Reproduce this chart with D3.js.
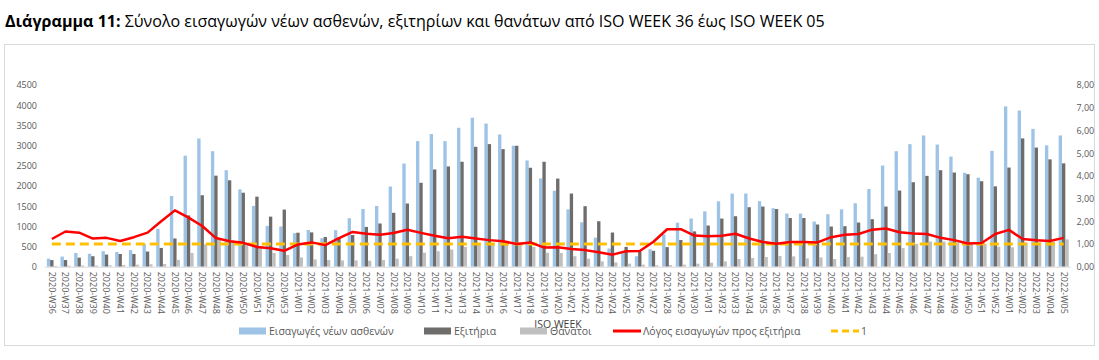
<!DOCTYPE html>
<html>
<head>
<meta charset="utf-8">
<script src="https://cdn.jsdelivr.net/npm/d3@7"></script>
<style>
  body { margin: 0; background: #fff; }
  text { font-family: "Open Sans", sans-serif; }
</style>
</head>
<body>
<div id="chart"></div>
<script>
// week labels on the x axis
var weeks = [
  "2020-W36","2020-W37","2020-W38","2020-W39","2020-W40","2020-W41","2020-W42","2020-W43","2020-W44",
  "2020-W45","2020-W46","2020-W47","2020-W48","2020-W49","2020-W50","2020-W51","2020-W52","2020-W53",
  "2021-W01","2021-W02","2021-W03","2021-W04","2021-W05","2021-W06","2021-W07","2021-W08","2021-W09",
  "2021-W10","2021-W11","2021-W12","2021-W13","2021-W14","2021-W15","2021-W16","2021-W17","2021-W18",
  "2021-W19","2021-W20","2021-W21","2021-W22","2021-W23","2021-W24","2021-W25","2021-W26","2021-W27",
  "2021-W28","2021-W29","2021-W30","2021-W31","2021-W32","2021-W33","2021-W34","2021-W35","2021-W36",
  "2021-W37","2021-W38","2021-W39","2021-W40","2021-W41","2021-W42","2021-W43","2021-W44","2021-W45",
  "2021-W46","2021-W47","2021-W48","2021-W49","2021-W50","2021-W51","2021-W52",
  "2022-W01","2022-W02","2022-W03","2022-W04","2022-W05"
];

// Εισαγωγές νέων ασθενών
var admissions = [
  200, 250, 340, 320, 385, 365, 410, 560, 940, 1750, 2750, 3175, 2860, 2390, 1915, 1505, 1010, 995,
  830, 910, 705, 905, 1200, 1430, 1505, 1985, 2555, 3110, 3285, 3110, 3440, 3690, 3545, 3275, 2995, 2632,
  2186, 1881, 1420, 1100, 720, 450, 332, 258, 432, 800, 1090, 1195, 1370, 1620, 1810, 1812, 1622, 1448,
  1316, 1316, 1118, 1300, 1420, 1572, 1923, 2505, 2860, 3035, 3250, 3025, 2728, 2327, 2204, 2870,
  3970, 3867, 3413, 3005, 3250
];

// Εξιτήρια
var discharges = [
  165, 165, 225, 260, 300, 315, 315, 375, 465, 700, 1270, 1770, 2255, 2140, 1832, 1735, 1240, 1415,
  842, 850, 734, 720, 785, 985, 1070, 1335, 1565, 2079, 2409, 2483, 2599, 2970, 3036, 2912, 2995, 2450,
  2599, 2182, 1812, 1498, 1126, 846, 490, 371, 392, 485, 660, 875, 1020, 1192, 1250, 1473, 1490, 1428,
  1205, 1205, 1045, 995, 1003, 1094, 1177, 1490, 1886, 2092, 2250, 2390, 2332, 2290, 2117, 1990,
  2455, 3178, 2950, 2658, 2560
];

// Θάνατοι
var deaths = [
  20, 25, 30, 30, 35, 40, 50, 60, 65, 170, 340, 555, 680, 650, 590, 500, 340, 290,
  230, 180, 165, 155, 155, 150, 165, 200, 260, 347, 385, 425, 490, 550, 575, 560, 540, 490,
  345, 340, 260, 198, 132, 107, 74, 50, 33, 41, 50, 74, 99, 132, 190, 215, 239, 264,
  256, 206, 231, 190, 239, 248, 310, 340, 460, 565, 625, 620, 600, 590, 560, 495,
  480, 594, 600, 619, 677
];

// Λόγος εισαγωγών προς εξιτήρια (right axis)
var ratio = [
  1.22, 1.55, 1.50, 1.24, 1.27, 1.13, 1.30, 1.50, 2.00, 2.48, 2.16, 1.79, 1.26, 1.12, 1.05, 0.87, 0.81, 0.70,
  0.98, 1.07, 0.95, 1.26, 1.53, 1.45, 1.41, 1.48, 1.63, 1.49, 1.36, 1.25, 1.32, 1.24, 1.17, 1.12, 1.00, 1.07,
  0.84, 0.86, 0.78, 0.73, 0.64, 0.53, 0.68, 0.69, 1.10, 1.65, 1.65, 1.37, 1.34, 1.36, 1.45, 1.24, 1.09, 1.01,
  1.09, 1.09, 1.07, 1.30, 1.41, 1.44, 1.63, 1.68, 1.52, 1.46, 1.44, 1.27, 1.17, 1.02, 1.04, 1.44,
  1.62, 1.22, 1.16, 1.13, 1.27
];

var refLevel = 1;

var leftTicks = [0, 500, 1000, 1500, 2000, 2500, 3000, 3500, 4000, 4500];
var rightTicks = [0, 1, 2, 3, 4, 5, 6, 7, 8];

var width = 1099, height = 360;
var plot = {left: 45, right: 1070.5, top: 85, bottom: 266.7};

var svg = d3.select("#chart")
  .append("svg")
    .attr("width", width)
    .attr("height", height);

// chart frame
svg.append("rect")
    .attr("x", 4.5).attr("y", 44.5)
    .attr("width", 1090).attr("height", 301)
    .attr("fill", "none")
    .attr("stroke", "#d9d9d9");

// title
var title = svg.append("text")
    .attr("x", 5)
    .attr("y", 27)
    .style("font-size", "15.5px")
    .attr("fill", "#000");
title.append("tspan").style("font-weight", "bold").text("Διάγραμμα 11:");
title.append("tspan").text(" Σύνολο εισαγωγών νέων ασθενών, εξιτηρίων και θανάτων από ISO WEEK 36 έως ISO WEEK 05");
// fit to the reference width
var tw = title.node().getComputedTextLength();
title.style("font-size", (15.5 * 820 / tw) + "px");

var x0 = d3.scaleBand()
    .domain(weeks)
    .range([plot.left, plot.right]);

var keys = ["adm", "dis", "dth"];
var colors = {adm: "#9dc3e6", dis: "#6f6c6c", dth: "#bfbfbf"};

var x1 = d3.scaleBand()
    .domain(keys)
    .range([0, x0.bandwidth()])
    .paddingOuter(0.55);

var y = d3.scaleLinear()
    .domain([0, 4500])
    .range([plot.bottom, plot.top]);

var y2 = d3.scaleLinear()
    .domain([0, 8])
    .range([plot.bottom, plot.top]);

var data = weeks.map(function(w, i) {
  return {week: w, adm: admissions[i], dis: discharges[i], dth: deaths[i], ratio: ratio[i]};
});

// bars
var groups = svg.append("g")
  .selectAll("g")
  .data(data)
  .enter()
  .append("g")
    .attr("transform", function(d) { return "translate(" + x0(d.week) + ",0)"; });

groups.selectAll("rect")
  .data(function(d) { return keys.map(function(k) { return {key: k, value: d[k]}; }); })
  .enter()
  .append("rect")
    .attr("x", function(d) { return x1(d.key); })
    .attr("width", x1.bandwidth())
    .attr("y", function(d) { return y(d.value); })
    .attr("height", function(d) { return y(0) - y(d.value); })
    .attr("fill", function(d) { return colors[d.key]; });

// baseline
svg.append("line")
    .attr("x1", plot.left).attr("x2", plot.right)
    .attr("y1", plot.bottom + 0.5).attr("y2", plot.bottom + 0.5)
    .attr("stroke", "#d9d9d9");

// left axis
var gl = svg.append("g")
    .attr("transform", "translate(" + plot.left + ",0)")
    .call(d3.axisLeft(y).tickValues(leftTicks).tickSize(0).tickPadding(8).tickFormat(d3.format("d")));
gl.select(".domain").remove();
gl.selectAll("text").style("font-size", "9px").attr("fill", "#595959").style("font-family", "'Open Sans', sans-serif");

// right axis
var fmt = d3.format(".2f");
var gr = svg.append("g")
    .attr("transform", "translate(" + plot.right + ",0)")
    .call(d3.axisRight(y2).tickValues(rightTicks).tickSize(0).tickPadding(6)
      .tickFormat(function(d) { return fmt(d).replace(".", ","); }));
gr.select(".domain").remove();
gr.selectAll("text").style("font-size", "9px").attr("fill", "#595959").style("font-family", "'Open Sans', sans-serif");

// x labels, rotated
svg.append("g")
  .selectAll("text")
  .data(weeks)
  .enter()
  .append("text")
    .attr("transform", function(d) {
      return "translate(" + (x0(d) + x0.bandwidth() / 2) + "," + (plot.bottom + 5) + ") rotate(90)";
    })
    .attr("dy", "0.35em")
    .style("text-anchor", "start")
    .style("font-size", "9px")
    .attr("fill", "#595959")
    .text(function(d) { return d; });

// reference line at 1
var cx = function(d) { return x0(d.week) + x0.bandwidth() / 2; };

svg.append("path")
    .datum(data)
    .attr("fill", "none")
    .attr("stroke", "#ffc000")
    .attr("stroke-width", 3)
    .attr("stroke-dasharray", "9,5")
    .attr("d", d3.line().x(cx).y(function() { return y2(refLevel); }));

// ratio line
svg.append("path")
    .datum(data)
    .attr("fill", "none")
    .attr("stroke", "#ff0000")
    .attr("stroke-width", 2.5)
    .attr("stroke-linejoin", "round")
    .attr("d", d3.line().x(cx).y(function(d) { return y2(d.ratio); }));

// axis title (sits on the legend row, as in the original)
svg.append("text")
    .attr("x", 558)
    .attr("y", 328)
    .style("text-anchor", "middle")
    .style("font-size", "10.5px")
    .attr("fill", "#404040")
    .text("ISO WEEK");

// legend
var legendY = 331;
var legendItems = [
  {type: "rect", color: colors.adm, x: 239, label: "Εισαγωγές νέων ασθενών"},
  {type: "rect", color: colors.dis, x: 424, label: "Εξιτήρια"},
  {type: "rect", color: colors.dth, x: 520, label: "Θάνατοι"},
  {type: "line", color: "#ff0000", x: 613, label: "Λόγος εισαγωγών προς εξιτήρια"},
  {type: "dash", color: "#ffc000", x: 831, label: "1"}
];

var legend = svg.append("g");
legendItems.forEach(function(it) {
  if (it.type == "rect") {
    legend.append("rect")
      .attr("x", it.x).attr("y", legendY - 3.5)
      .attr("width", 27).attr("height", 7)
      .attr("fill", it.color);
  } else {
    legend.append("line")
      .attr("x1", it.x).attr("x2", it.x + 28)
      .attr("y1", legendY).attr("y2", legendY)
      .attr("stroke", it.color)
      .attr("stroke-width", 3)
      .attr("stroke-dasharray", it.type == "dash" ? "7,4" : null);
  }
  legend.append("text")
    .attr("x", it.x + 30)
    .attr("y", legendY)
    .attr("dy", "0.35em")
    .style("font-size", "10.5px")
    .attr("fill", "#595959")
    .text(it.label);
});
</script>
</body>
</html>
